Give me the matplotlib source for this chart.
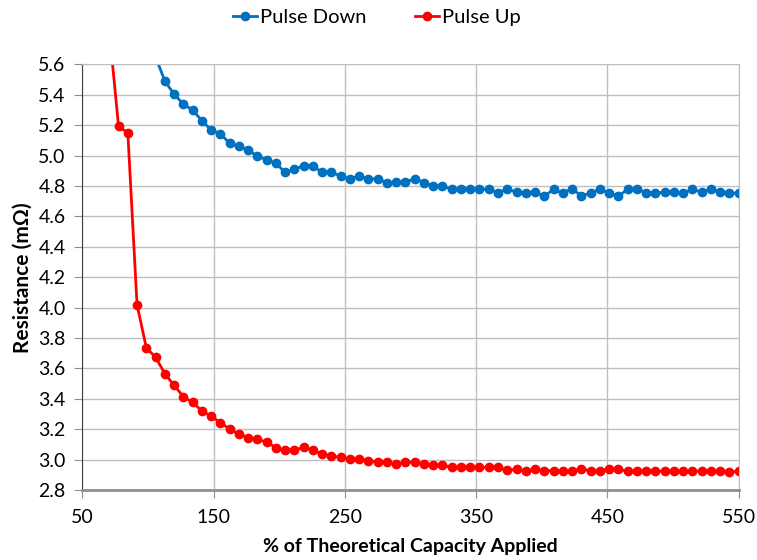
import matplotlib.pyplot as plt

plt.rcParams["font.family"] = ["Lato", "DejaVu Sans"]

# shared x positions (% of theoretical capacity applied)
x_pct = [70.5, 77.6, 84.7, 91.7, 98.8, 105.8, 112.9, 119.9, 127.0, 134.0, 141.1,
         148.1, 155.2, 162.2, 169.3, 176.3, 183.4, 190.4, 197.5, 204.5, 211.6,
         218.6, 225.7, 232.7, 239.8, 246.8, 253.9, 260.9, 268.0, 275.0, 282.1,
         289.1, 296.2, 303.2, 310.3, 317.3, 324.4, 331.4, 338.5, 345.5, 352.6,
         359.6, 366.7, 373.7, 380.8, 387.8, 394.9, 401.9, 409.0, 416.0, 423.1,
         430.1, 437.2, 444.2, 451.3, 458.3, 465.4, 472.4, 479.5, 486.5, 493.6,
         500.6, 507.7, 514.7, 521.8, 528.8, 535.9, 542.9, 550.0]

pulse_up = [5.83, 5.194, 5.149, 4.02, 3.735, 3.674, 3.565, 3.489, 3.415, 3.376,
            3.321, 3.286, 3.244, 3.20, 3.167, 3.144, 3.133, 3.116, 3.078, 3.06,
            3.062, 3.082, 3.06, 3.038, 3.022, 3.016, 3.002, 3.004, 2.993, 2.982,
            2.982, 2.971, 2.982, 2.982, 2.969, 2.962, 2.962, 2.949, 2.949, 2.949,
            2.949, 2.949, 2.949, 2.929, 2.936, 2.924, 2.936, 2.927, 2.927, 2.924,
            2.927, 2.938, 2.927, 2.927, 2.938, 2.936, 2.924, 2.924, 2.924, 2.924,
            2.924, 2.924, 2.924, 2.924, 2.924, 2.924, 2.924, 2.916, 2.924]

# pulse down starts later on the same x grid
x_down = x_pct[5:]
pulse_down = [5.65, 5.49, 5.405, 5.338, 5.30, 5.23, 5.169, 5.143, 5.082, 5.062,
              5.036, 4.997, 4.972, 4.95, 4.889, 4.911, 4.933, 4.933, 4.889, 4.889,
              4.867, 4.846, 4.867, 4.848, 4.846, 4.822, 4.826, 4.826, 4.848, 4.822,
              4.80, 4.80, 4.778, 4.778, 4.778, 4.778, 4.778, 4.756, 4.78, 4.76,
              4.752, 4.759, 4.732, 4.778, 4.754, 4.783, 4.735, 4.754, 4.778, 4.754,
              4.732, 4.778, 4.778, 4.756, 4.752, 4.759, 4.759, 4.752, 4.778, 4.759,
              4.778, 4.759, 4.752, 4.754]

x_ticks = [50, 150, 250, 350, 450, 550]
y_ticks = [2.8, 3.0, 3.2, 3.4, 3.6, 3.8, 4.0, 4.2, 4.4, 4.6, 4.8, 5.0, 5.2, 5.4, 5.6]

fig = plt.figure(figsize=(7.57, 5.6), dpi=100)
ax = fig.add_axes([0.1087, 0.125, 0.867, 0.760])

ax.plot(x_down, pulse_down, color="#0070C0", lw=2, marker="o", ms=6,
        label="Pulse Down")
ax.plot(x_pct, pulse_up, color="#FF0000", lw=2, marker="o", ms=6,
        label="Pulse Up")

ax.set_xlim(50, 550)
ax.set_ylim(2.8, 5.6)
ax.set_xticks(x_ticks)
ax.set_yticks(y_ticks)
ax.set_yticklabels([f"{v:.1f}" for v in y_ticks])
ax.grid(True, color="#BFBFBF", lw=1)
ax.set_axisbelow(True)

for s in ["top", "right"]:
    ax.spines[s].set_color("#BFBFBF")
ax.spines["left"].set_color("#404040")
ax.spines["bottom"].set_color("#909090")
ax.spines["bottom"].set_linewidth(2)
ax.tick_params(axis="y", colors="#909090", labelcolor="black", labelsize=14,
               length=6, pad=6)
ax.tick_params(axis="x", colors="#909090", labelcolor="black", labelsize=14,
               length=6, pad=8)

ax.set_xlabel("% of Theoretical Capacity Applied", fontsize=14,
              fontweight="bold", labelpad=8)
ax.set_ylabel("Resistance (mΩ)", fontsize=15, fontweight="bold", labelpad=4)

fig.legend(loc="center", bbox_to_anchor=(0.498, 0.968), ncol=2, frameon=False,
           fontsize=14.5, handlelength=1.2, columnspacing=2.4, handletextpad=0.15)

fig.savefig("out.png", dpi=100)
